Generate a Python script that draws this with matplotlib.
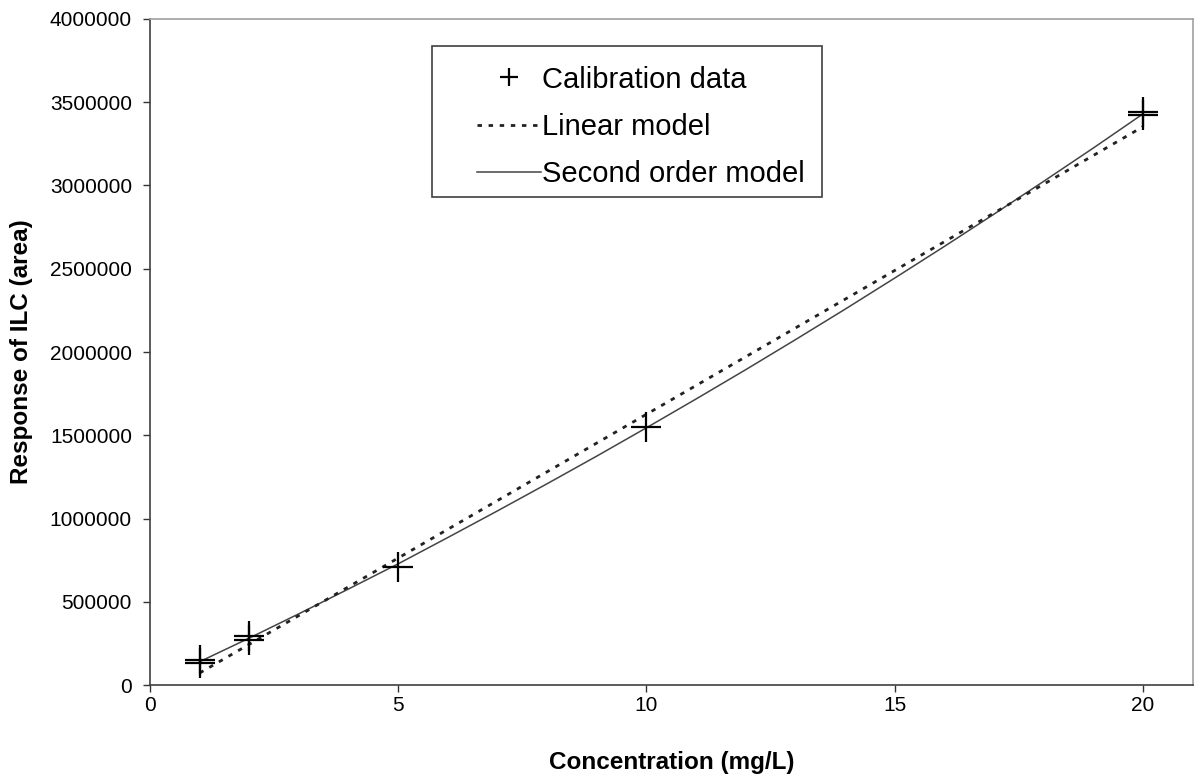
import matplotlib
matplotlib.use("Agg")
import matplotlib.pyplot as plt
from matplotlib.patches import Rectangle
from matplotlib.ticker import FuncFormatter

plt.rcParams["font.family"] = ["Liberation Sans", "DejaVu Sans"]

# calibration replicates (mg/L, peak area)
conc = [1, 1, 2, 2, 5, 10, 20, 20]
area = [150000, 135000, 292000, 272000, 707000, 1551000, 3443000, 3423000]

# linear model, read at its two ends
lin_x = [1, 20]
lin_y = [72000, 3353000]

# second order model
quad_x = [1, 2, 3, 4, 5, 6, 7, 8, 9, 10, 11, 12, 13, 14, 15, 16, 17, 18, 19, 20]
quad_y = [140000, 282000, 428000, 577000, 728000, 886000, 1046000, 1209000,
          1375000, 1545000, 1718000, 1894000, 2074000, 2257000, 2444000,
          2634000, 2828000, 3025000, 3225000, 3430000]

x_ticks = [0, 5, 10, 15, 20]
y_ticks = list(range(0, 4000001, 500000))

fig = plt.figure(figsize=(11.95, 7.75), dpi=100)
ax = fig.add_axes([0.1255, 0.1161, 0.8725, 0.8594])

ax.plot(conc, area, linestyle="none", marker="+", markersize=21,
        markeredgewidth=1.6, color="black", label="Calibration data", zorder=5)
ax.plot(lin_x, lin_y, linestyle=(0, (1.6, 2.4)), linewidth=2.0,
        color="#222222", label="Linear model", zorder=4)
ax.plot(quad_x, quad_y, linestyle="-", linewidth=1.1,
        color="#444444", label="Second order model", zorder=3)

ax.set_xlim(0, 21)
ax.set_ylim(0, 4000000)
ax.set_xticks(x_ticks)
ax.set_yticks(y_ticks)
ax.yaxis.set_major_formatter(FuncFormatter(lambda v, _: f"{int(v)}"))
ax.tick_params(direction="out", length=5, width=1, labelsize=15,
               colors="#333333", labelcolor="black")
ax.tick_params(axis="y", pad=8)
ax.tick_params(axis="x", pad=3)

for s in ("left", "bottom"):
    ax.spines[s].set_color("#404040")
    ax.spines[s].set_linewidth(1.2)
for s in ("top", "right"):
    ax.spines[s].set_color("#a0a0a0")
    ax.spines[s].set_linewidth(1.2)

ax.set_xlabel("Concentration (mg/L)", fontsize=17.5, fontweight="bold", labelpad=26)
ax.set_ylabel("Response of ILC (area)", fontsize=17.5, fontweight="bold", labelpad=12)

# legend box drawn separately so the padding matches the original
ax.add_patch(Rectangle((0.2704, 0.7327), 0.3739, 0.2268, transform=ax.transAxes,
                       facecolor="white", edgecolor="#404040", linewidth=1.2,
                       zorder=6))
leg = ax.legend(loc="upper left", bbox_to_anchor=(0.3135, 0.930), fontsize=21,
                frameon=False, markerscale=0.6,
                handlelength=2.2, handletextpad=0.05, labelspacing=0.66,
                borderpad=0, borderaxespad=0)
leg.set_zorder(7)

fig.savefig("out.png", dpi=100, facecolor="white")
